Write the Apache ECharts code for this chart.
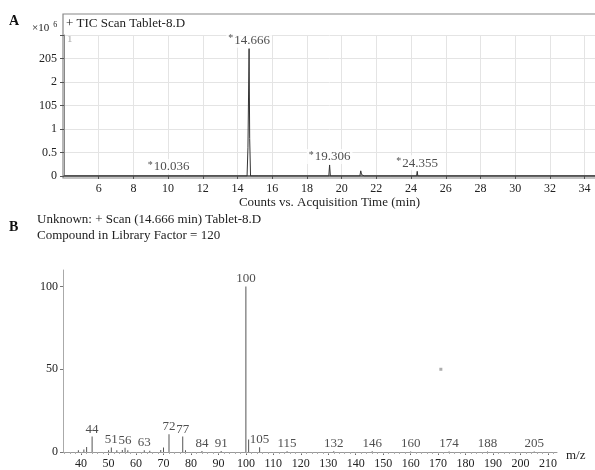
<!DOCTYPE html>
<html><head><meta charset="utf-8">
<script src="https://cdn.jsdelivr.net/npm/echarts@6/dist/echarts.min.js"></script>
<style>html,body{margin:0;padding:0;background:#fff}#c{width:595px;height:470px}</style>
</head><body><div id="c"></div>
<script>
// ---------- Panel A: TIC chromatogram (counts x10^6 vs time, min) ----------
const ticTime  = [4.0, 9.98, 10.036, 10.09, 10.93, 10.96, 11.0, 11.32, 11.35, 11.38,
                  14.55, 14.60, 14.666, 14.70, 14.75, 15.22, 15.25, 15.28,
                  19.26, 19.306, 19.35, 21.05, 21.10, 21.15, 21.30,
                  22.82, 22.85, 22.88, 24.32, 24.355, 24.39, 34.6];
const ticCount = [0, 0, 0.02, 0, 0, 0.02, 0, 0, 0.02, 0,
                  0, 0.6, 2.71, 0.8, 0, 0, 0.02, 0,
                  0, 0.235, 0, 0, 0.11, 0.03, 0,
                  0, 0.025, 0, 0, 0.1, 0, 0];
const peakRT     = [10.036, 14.666, 19.306, 24.355];
const peakHeight = [0.02, 2.71, 0.235, 0.1];
const ticYTickLabels = ['0', '0.5', '1', '105', '2', '205'];

// ---------- Panel B: mass spectrum ----------
const msMz    = [39, 41, 42, 44, 50, 51, 53, 55, 56, 57, 63, 65, 69, 70, 72, 77, 78, 84, 91,
                 100, 101, 105, 115, 132, 146, 160, 174, 188, 205];
const msAbund = [1.0, 1.5, 3.0, 9.3, 1.0, 2.7, 1.0, 1.2, 2.5, 1.0, 1.0, 0.8, 1.2, 2.7, 10.7, 9.3, 1.0, 0.6, 0.6,
                 100, 7.5, 2.8, 0.5, 0.4, 0.4, 0.3, 0.3, 0.3, 0.3];
const msLabeled = [44, 51, 56, 63, 72, 77, 84, 91, 100, 105, 115, 132, 146, 160, 174, 188, 205];
const msXTicks  = [40, 50, 60, 70, 80, 90, 100, 110, 120, 130, 140, 150, 160, 170, 180, 190, 200, 210];
const msYTicks  = [0, 50, 100];
const msStray   = [[171, 50]];

const FONT = '"Liberation Serif", "DejaVu Serif", serif';
const TXT = '#222';

const ticData = ticTime.map((t, i) => [t, ticCount[i]]);
const peakData = peakRT.map((t, i) => [t, peakHeight[i]]);
const msData = msMz.map((m, i) => [m, msAbund[i]]);
const msLabelData = msLabeled.map(m => [m, msAbund[msMz.indexOf(m)]]);
const minorTicks = [];
for (let v = 34; v <= 212; v += 2) minorTicks.push(v);

const chart = echarts.init(document.getElementById('c'), null, {renderer: 'canvas'});
chart.setOption({
  animation: false,
  textStyle: {fontFamily: FONT, color: TXT},
  grid: [
    {left: 64, right: 0, top: 35, bottom: 294},
    {left: 63, right: 38, top: 270, bottom: 17}
  ],
  xAxis: [
    {
      gridIndex: 0, type: 'value', position: 'bottom', min: 4, max: 34.6, interval: 2,
      name: 'Counts vs. Acquisition Time (min)', nameLocation: 'middle', nameGap: 16,
      nameTextStyle: {fontFamily: FONT, fontSize: 13, color: TXT},
      axisLine: {show: true, lineStyle: {color: '#777', width: 2}},
      axisTick: {show: true, length: 3, lineStyle: {color: '#555'}},
      axisLabel: {fontFamily: FONT, fontSize: 12, color: TXT, margin: 7, showMinLabel: false, showMaxLabel: false},
      splitLine: {show: true, lineStyle: {color: '#e4e4e4', width: 1}}
    },
    {
      gridIndex: 1, type: 'value', position: 'bottom', min: 33.4, max: 213.3,
      axisLine: {show: true, lineStyle: {color: '#999', width: 1}},
      axisTick: {show: true, length: 3, customValues: msXTicks, lineStyle: {color: '#666'}},
      axisLabel: {fontFamily: FONT, fontSize: 12, color: TXT, margin: 6, customValues: msXTicks},
      splitLine: {show: false}
    },
    {
      gridIndex: 1, type: 'value', position: 'bottom', min: 33.4, max: 213.3,
      axisLine: {show: false},
      axisTick: {show: true, length: 2, customValues: minorTicks, lineStyle: {color: '#aaa'}},
      axisLabel: {show: false},
      splitLine: {show: false}
    }
  ],
  yAxis: [
    {
      gridIndex: 0, type: 'value', min: 0, max: 3, interval: 0.5,
      axisLine: {show: true, lineStyle: {color: '#888', width: 1}},
      axisTick: {show: true, length: 4, lineStyle: {color: '#555'}},
      axisLabel: {fontFamily: FONT, fontSize: 12, color: TXT, margin: 7,
        formatter: v => { const i = Math.round(v / 0.5); return i < ticYTickLabels.length ? ticYTickLabels[i] : ''; }},
      splitLine: {show: true, lineStyle: {color: '#e4e4e4', width: 1}}
    },
    {
      gridIndex: 1, type: 'value', min: 0, max: 110,
      axisLine: {show: true, lineStyle: {color: '#aaa', width: 1}},
      axisTick: {show: true, length: 3, customValues: msYTicks, lineStyle: {color: '#777'}},
      axisLabel: {fontFamily: FONT, fontSize: 12, color: TXT, margin: 5, customValues: msYTicks},
      splitLine: {show: false}
    }
  ],
  graphic: [
    {type: 'rect', z: 0, shape: {x: 63, y: 14, width: 540, height: 164},
     style: {fill: 'none', stroke: '#888', lineWidth: 1.2}},
    {type: 'text', left: 9, top: 14, style: {text: 'A', font: 'bold 14px ' + FONT, fill: '#111'}},
    {type: 'text', left: 32, top: 21, style: {text: '×10{s|6}', font: '11px ' + FONT, fill: TXT,
      rich: {s: {fontSize: 8, verticalAlign: 'top', padding: [0, 0, 6, 4], fontFamily: FONT}}}},
    {type: 'text', left: 66, top: 17, style: {text: '+ TIC Scan Tablet-8.D', font: '13px ' + FONT, fill: TXT}},
    {type: 'text', left: 67, top: 34, style: {text: '1', font: '11px ' + FONT, fill: '#aaa'}},
    {type: 'text', left: 9, top: 220, style: {text: 'B', font: 'bold 14px ' + FONT, fill: '#111'}},
    {type: 'text', left: 37, top: 213, style: {text: 'Unknown: + Scan (14.666 min) Tablet-8.D', font: '13px ' + FONT, fill: TXT}},
    {type: 'text', left: 37, top: 229, style: {text: 'Compound in Library Factor = 120', font: '13px ' + FONT, fill: TXT}},
    {type: 'text', left: 566, top: 449, style: {text: 'm/z', font: '13px ' + FONT, fill: TXT}}
  ],
  series: [
    {
      type: 'line', xAxisIndex: 0, yAxisIndex: 0, data: ticData, symbol: 'none',
      lineStyle: {color: '#333', width: 1}, z: 3
    },
    {
      type: 'scatter', xAxisIndex: 0, yAxisIndex: 0, data: peakData, symbolSize: 0, z: 4,
      label: {show: true, position: 'top', distance: 1,
        formatter: p => '{s|*}' + p.value[0].toFixed(3),
        fontFamily: FONT, fontSize: 13, color: TXT, backgroundColor: '#fff', padding: [1, 2, 0, 2],
        rich: {s: {fontSize: 10, verticalAlign: 'top', padding: [0, 1, 4, 0], fontFamily: FONT, color: TXT}}}
    },
    {
      type: 'bar', xAxisIndex: 1, yAxisIndex: 1, data: msData, barWidth: 1,
      itemStyle: {color: '#555'}, z: 3
    },
    {
      type: 'scatter', xAxisIndex: 1, yAxisIndex: 1, data: msLabelData, symbolSize: 0, z: 4,
      label: {show: true, position: 'top', distance: 1, formatter: p => String(p.value[0]),
        fontFamily: FONT, fontSize: 13, color: TXT}
    },
    {
      type: 'scatter', xAxisIndex: 1, yAxisIndex: 1, data: msStray, symbol: 'rect', symbolSize: 3,
      itemStyle: {color: '#999'}, z: 4
    }
  ]
});
</script>
</body></html>
